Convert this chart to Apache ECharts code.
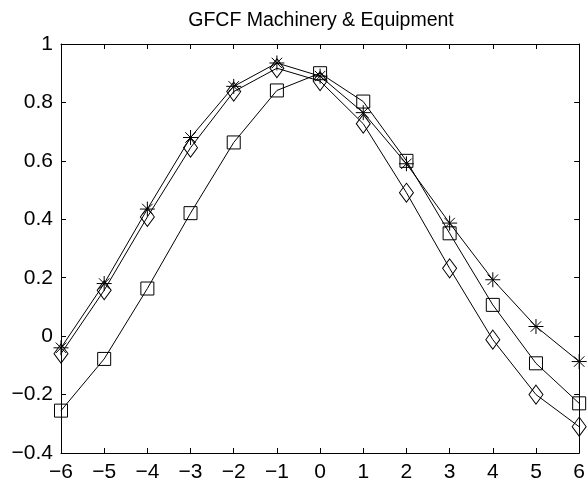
<!DOCTYPE html>
<html>
<head>
<meta charset="utf-8">
<script src="https://cdn.jsdelivr.net/npm/echarts@6/dist/echarts.min.js"></script>
<style>
  html, body { margin: 0; padding: 0; background: #fff; }
  #chart { width: 588px; height: 488px; }
</style>
</head>
<body>
<div id="chart"></div>
<script>
// lags / leads on the x axis
const lags = [-6, -5, -4, -3, -2, -1, 0, 1, 2, 3, 4, 5, 6];

// three correlation series
const starVals = [-0.04, 0.18, 0.435, 0.68, 0.855, 0.935, 0.89, 0.765, 0.59, 0.387, 0.193, 0.033, -0.087];
const squareVals = [-0.255, -0.078, 0.163, 0.421, 0.663, 0.841, 0.9, 0.803, 0.6, 0.352, 0.107, -0.093, -0.23];
const diamondVals = [-0.06, 0.157, 0.408, 0.645, 0.837, 0.917, 0.873, 0.727, 0.491, 0.232, -0.012, -0.2, -0.31];

const FONT = "Liberation Sans";
const starPath = "path://M0,-10L0,10M-10,0L10,0M-7,-7L7,7M-7,7L7,-7";

function fmt(v) {
  const s = String(Math.round(v * 10) / 10);
  return s.replace("-", "\u2212");
}

function pairs(vals) {
  return lags.map((x, i) => [x, vals[i]]);
}

function mkSeries(vals, symbol, size) {
  return {
    type: "line",
    data: pairs(vals),
    symbol: symbol,
    symbolSize: size,
    showAllSymbol: true,
    clip: false,
    lineStyle: { color: "#000", width: 1 },
    itemStyle: { color: "none", borderColor: "#000", borderWidth: 1 },
    emphasis: { disabled: true },
    animation: false,
  };
}

const axisLine = { show: true, onZero: false, lineStyle: { color: "#000", width: 1 } };
const axisTick = { show: true, inside: true, length: 5, lineStyle: { color: "#000" } };

const chart = echarts.init(document.getElementById("chart"));
chart.setOption({
  animation: false,
  // title centred over the plot area, not the canvas
  title: {
    text: "GFCF Machinery & Equipment",
    left: 316,
    top: 6,
    textAlign: "center",
    textStyle: { fontFamily: FONT, fontSize: 19.5, fontWeight: "normal", color: "#000" },
  },
  grid: { left: 61, right: 7, top: 44, bottom: 35 },
  xAxis: [
    {
      type: "value", min: -6, max: 6, interval: 1, position: "bottom",
      axisLine: axisLine, axisTick: axisTick, splitLine: { show: false },
      axisLabel: { formatter: fmt, color: "#000", fontFamily: FONT, fontSize: 21, margin: 9 },
    },
    {
      type: "value", min: -6, max: 6, interval: 1, position: "top",
      axisLine: axisLine, axisTick: axisTick, splitLine: { show: false },
      axisLabel: { show: false },
    },
  ],
  yAxis: [
    {
      type: "value", min: -0.4, max: 1, interval: 0.2, position: "left",
      axisLine: axisLine, axisTick: axisTick, splitLine: { show: false },
      axisLabel: { formatter: fmt, color: "#000", fontFamily: FONT, fontSize: 21, margin: 8 },
    },
    {
      type: "value", min: -0.4, max: 1, interval: 0.2, position: "right",
      axisLine: axisLine, axisTick: axisTick, splitLine: { show: false },
      axisLabel: { show: false },
    },
  ],
  series: [
    mkSeries(starVals, starPath, 15),
    mkSeries(squareVals, "rect", 13),
    mkSeries(diamondVals, "diamond", [14, 19]),
  ],
});
</script>
</body>
</html>
